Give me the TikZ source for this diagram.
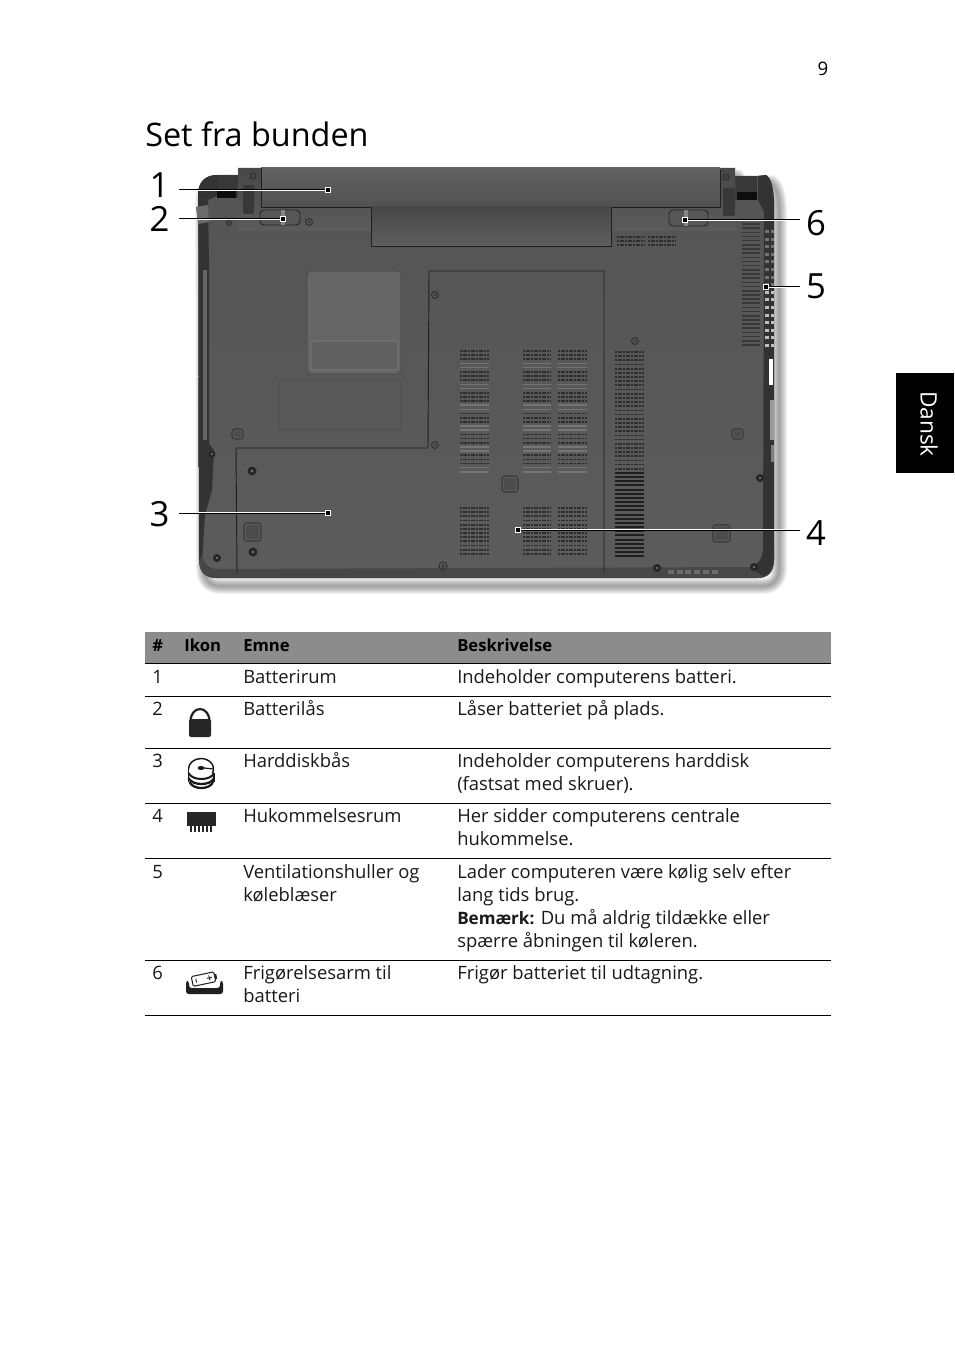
\documentclass[tikz,border=0pt]{standalone}
\usepackage{fontspec}
\setmainfont{Open Sans}
\usetikzlibrary{calc}
\definecolor{rimg}{HTML}{333333}
\definecolor{headg}{HTML}{8C8C8C}
\newcommand{\bodypath}{(198,195) .. controls (198,182) and (205,175) .. (217,175) -- (238,175) -- (241,168) -- (732,169) -- (735,176) -- (757,176) -- (766,175) .. controls (771,178) and (773,186) .. (774,200) -- (774,560) .. controls (774,572) and (768,578) .. (758,578) -- (216,578) .. controls (205,578) and (199,572) .. (199,560) -- cycle}
\newcommand{\screw}[3]{\fill[black!85] (#1,#2) circle (#3); \fill[black!50] (#1,#2) circle (#3*0.3);}
\newcommand{\ringscrew}[3]{\draw[black!82,line width=0.7pt] (#1,#2) circle (#3); \fill[black!75] (#1,#2) circle (#3*0.5);}
\newcommand{\padbtn}[4]{\draw[black!78,line width=0.8pt,rounded corners=2] (#1,#2) rectangle (#3,#4); \fill[black!70,rounded corners=1] ($(#1,#2)+(2,2)$) rectangle ($(#3,#4)+(-2,-2)$);}
\newcommand{\ventrows}[3]{\foreach \i in {0,...,29}{\pgfmathsetmacro{\yy}{#3+4.17*\i}\pgfmathtruncatemacro{\mm}{mod(\i,5)}\ifnum\mm<3\relax\draw[ventdark] (#1,\yy) -- (#2,\yy);\else\draw[ventlight] (#1,\yy) -- (#2,\yy);\fi}}
\newcommand{\ventlow}[3]{\foreach \i in {0,...,11}{\pgfmathsetmacro{\yy}{#3+4.17*\i}\draw[ventdark] (#1,\yy) -- (#2,\yy);}}
\tikzset{
  ventdark/.style={black!82,line width=1.3pt,dash pattern=on 1.6pt off 0.4pt},
  ventlight/.style={black!54,line width=1.1pt},
  ventsolid/.style={black!88,line width=1.5pt},
  leaderhalo/.style={white,line width=1.7pt},
  leaderline/.style={black,line width=0.75pt},
  leaderend/.style={draw=white,fill=black,line width=0.5pt,minimum size=3.6pt,inner sep=0pt},
  callout/.style={font=\fontsize{26}{28}\selectfont,anchor=base,inner sep=0pt},
  cell/.style={font=\fontsize{13.8}{15}\selectfont,anchor=base west,inner sep=0pt,text=black!90},
  headcell/.style={font=\fontsize{12.5}{15}\selectfont\bfseries,anchor=base west,inner sep=0pt},
  rowrule/.style={black,line width=0.75pt},
}
\begin{document}
\begin{tikzpicture}[x=0.75pt,y=-0.75pt]
\useasboundingbox (0,0) rectangle (954,1369);
\fill[white] (0,0) rectangle (954,1369);
% page furniture
\node[font=\fontsize{14}{16}\selectfont,anchor=base,inner sep=0pt] (pagenum) at (823,76) {9};
\node[font=\fontsize{24.3}{30}\selectfont,anchor=base west,inner sep=0pt] (title) at (145,147) {Set fra bunden};
\fill[black] (896,373) rectangle (954,473);
\node[font=\fontsize{17}{20}\selectfont,text=white,rotate=-90,inner sep=0pt] (tab) at (929,424) {Dansk};
% shadow
\foreach \w in {16,14,12,10,8,6,4,2}{
  \draw[black,opacity=0.05,line width=\w*0.75pt,line join=round,shift={(5,8)}] \bodypath;
}
% body
\shade[top color=black!67,middle color=black!61,bottom color=black!64] \bodypath;
% rims
\fill[rimg] (199,262) -- (209,262) -- (209,444) -- (214,450) -- (212,490) -- (205,515) -- (202,560) -- (199,560) -- cycle;
\fill[black!60] (203,270) rectangle (207,440);
\fill[black!72] (199,560) .. controls (199,572) and (205,578) .. (216,578) -- (758,578) .. controls (768,578) and (774,572) .. (774,560) -- (774,545) -- (763,550) .. controls (762,560) and (757,566) .. (750,567) -- (215,569) .. controls (209,568) and (205,564) .. (202,556) -- cycle;
\fill[rimg] (774,200) -- (774,560) .. controls (773,568) and (770,573) .. (764,576) .. controls (758,574) and (755,570) .. (750,567) .. controls (757,566) and (762,560) .. (763,550) -- (764,200) -- cycle;
\fill[rimg] (198,195) .. controls (198,182) and (205,175) .. (217,175) -- (217,196) -- (208,200) -- (209,262) -- (199,262) -- cycle;
\fill[black!58] (196,207) -- (208,205) -- (209,222) -- (198,224) -- cycle;
\fill[rimg] (758,176) -- (766,175) .. controls (771,178) and (773,186) .. (774,200) -- (764,200) -- (764,212) -- (758,200) -- cycle;
% hinges
\fill[black!78] (217,175) rectangle (238,198);
\fill[black!95] (217,190) rectangle (236,198);
\fill[black!78] (735,176) rectangle (757,200);
\fill[black!95] (737,192) rectangle (757,200);
% latch bays
\shade[top color=black!72,bottom color=black!64] (238,168) -- (261,168) -- (261,207) -- (371,207) -- (371,231) -- (238,231) -- cycle;
\shade[top color=black!72,bottom color=black!64] (611,207) -- (720,207) -- (720,168) -- (735,168) -- (736,231) -- (611,231) -- cycle;
% battery
\shade[top color=black!62,middle color=black!74,bottom color=black!68] (261,168) rectangle (720,207);
\shade[top color=black!72,bottom color=black!63] (371,207) rectangle (611,246);
\draw[black!88,line width=0.7pt] (261,168) -- (261,207) -- (371,207) -- (371,246) -- (611,246) -- (611,207) -- (720,207) -- (720,170);
\fill[black!78,rounded corners=1] (243,185) rectangle (254,214);
\fill[black!78,rounded corners=1] (723,188) rectangle (735,216);
\ringscrew{253}{176}{3}
\ringscrew{726}{177}{3}
\ringscrew{229}{223}{2.5}
\ringscrew{309}{222}{3.5}
\ringscrew{204}{193}{2.2}
\ringscrew{768}{192}{2.2}
% latches
\draw[black!85,line width=0.7pt,rounded corners=3,fill=black!66] (260,210) rectangle (300,225);
\fill[black!48] (281,210) rectangle (285,225);
\draw[black!85,line width=0.7pt,rounded corners=3,fill=black!66] (669,210) rectangle (708,226);
\fill[black!48] (684,210) rectangle (688,226);
% panels
\draw[black!88,line width=0.7pt] (237,573) -- (236,448) -- (428,448) -- (429,271) -- (604,271) -- (604,573);
\draw[black!72,rounded corners=3,line width=0.6pt,fill=black!60] (307,271) rectangle (401,374);
\draw[black!50,rounded corners=2,line width=0.5pt,fill=black!62] (311,341) rectangle (398,370);
\draw[black!70,rounded corners=3,line width=0.5pt] (279,380) rectangle (401,430);
% vents
\ventrows{460}{489}{351}
\ventrows{523}{551}{351}
\ventrows{558}{587}{351}
\ventlow{460}{489}{508}
\ventlow{523}{551}{508}
\ventlow{558}{587}{508}
\foreach \i in {0,...,28}{\pgfmathsetmacro{\yy}{352+4.17*\i}\draw[ventdark] (615,\yy) -- (644,\yy);}
\foreach \i in {29,...,49}{\pgfmathsetmacro{\yy}{352+4.17*\i}\draw[ventsolid] (615,\yy) -- (644,\yy);}
\foreach \yy in {237,241,245}{\draw[ventdark] (617,\yy) -- (645,\yy); \draw[ventdark] (648,\yy) -- (676,\yy);}
\foreach \i in {0,...,29}{\pgfmathsetmacro{\yy}{224+4.17*\i}\draw[black!78,line width=1.2pt] (742,\yy) -- (760,\yy);}
% right grille
\foreach \i in {0,...,15}{\pgfmathsetmacro{\yy}{230+7.6*\i}\pgfmathsetmacro{\gg}{\i<8 ? 55 : 25}
  \fill[black!\gg] (765,\yy) rectangle (769,\yy+3);
  \fill[black!\gg] (771,\yy) rectangle (774,\yy+3);
}
% ports
\fill[white] (769,359) rectangle (773,385);
\fill[black!40] (770,400) rectangle (774,440);
\fill[black!50] (771,445) rectangle (774,462);
% screws and pads
\ringscrew{435}{295}{3.5}
\ringscrew{635}{341}{3.5}
\ringscrew{435}{445}{3.5}
\screw{212}{454}{3.5}
\screw{252}{471}{4.5}
\screw{253}{552}{4.5}
\screw{217}{558}{4}
\ringscrew{443}{566}{4}
\screw{657}{568}{4}
\screw{754}{567}{4}
\screw{760}{478}{4}
\padbtn{232}{429}{243}{439}
\padbtn{244}{523}{261}{541}
\padbtn{502}{476}{518}{492}
\padbtn{732}{429}{743}{439}
\padbtn{713}{525}{730}{542}
\foreach \i in {0,...,5}{\fill[black!58] ({668+8.7*\i},570) rectangle ({674+8.7*\i},574);}
% callouts
\coordinate (s1) at (179,190); \coordinate (s2) at (179,219); \coordinate (s3) at (179,513);
\coordinate (s4) at (800,530); \coordinate (s5) at (800,287); \coordinate (s6) at (800,220);
\node[leaderend] (e1) at (328,190) {};
\node[leaderend] (e2) at (283,219) {};
\node[leaderend] (e3) at (328,513) {};
\node[leaderend] (e4) at (518,530) {};
\node[leaderend] (e5) at (766,287) {};
\node[leaderend] (e6) at (685,220) {};
\foreach \a in {1,...,6}{\draw[leaderhalo] (s\a) -- (e\a); \draw[leaderline] (s\a) -- (e\a);}
\node[callout] (n1) at (159.5,198) {1};
\node[callout] (n2) at (159.5,232) {2};
\node[callout] (n3) at (159.5,526) {3};
\node[callout] (n4) at (816,545) {4};
\node[callout] (n5) at (816,299) {5};
\node[callout] (n6) at (816,236) {6};
% table
\fill[headg] (145,632) rectangle (831,663);
\foreach \yy in {663,696,748,803,858,960,1015}{\draw[rowrule] (145,\yy) -- (831,\yy);}
\node[headcell] (h1) at (152,651) {\#};
\node[headcell] (h2) at (184,651) {Ikon};
\node[headcell] (h3) at (243,651) {Emne};
\node[headcell] (h4) at (457,651) {Beskrivelse};
\node[cell] (a1) at (152,683) {1};
\node[cell] (a2) at (243,683) {Batterirum};
\node[cell] (a3) at (457,683) {Indeholder computerens batteri.};
\node[cell] (b1) at (152,715) {2};
\node[cell] (b2) at (243,715) {Batterilås};
\node[cell] (b3) at (457,715) {Låser batteriet på plads.};
\node[cell] (c1) at (152,767) {3};
\node[cell] (c2) at (243,767) {Harddiskbås};
\node[cell] (c3) at (457,767) {Indeholder computerens harddisk};
\node[cell] (c4) at (457,790) {(fastsat med skruer).};
\node[cell] (d1) at (152,822) {4};
\node[cell] (d2) at (243,822) {Hukommelsesrum};
\node[cell] (d3) at (457,822) {Her sidder computerens centrale};
\node[cell] (d4) at (457,845) {hukommelse.};
\node[cell] (f1) at (152,878) {5};
\node[cell] (f2) at (243,878) {Ventilationshuller og};
\node[cell] (f3) at (243,901) {køleblæser};
\node[cell] (f4) at (457,878) {Lader computeren være kølig selv efter};
\node[cell] (f5) at (457,901) {lang tids brug.};
\node[cell] (f6) at (457,924) {{\fontsize{12.8}{15}\selectfont\bfseries Bemærk:} Du må aldrig tildække eller};
\node[cell] (f7) at (457,947) {spærre åbningen til køleren.};
\node[cell] (g1) at (152,979) {6};
\node[cell] (g2) at (243,979) {Frigørelsesarm til};
\node[cell] (g3) at (243,1002) {batteri};
\node[cell] (g4) at (457,979) {Frigør batteriet til udtagning.};
% icons
\draw[black!85,line width=1.7pt] (190.5,721) arc[start angle=180,end angle=360,x radius=9.5,y radius=12];
\fill[black!85,rounded corners=1.5] (189,719) rectangle (211,737);
\draw[black!90,line width=1.1pt] (188.5,769) arc[start angle=180,end angle=385,x radius=12.5,y radius=10.5];
\draw[black!90,line width=1.1pt] (188.5,769) -- (188.5,782) (214,773) -- (214,782);
\draw[black!90,line width=1.5pt] (188.5,773) .. controls (192,781) and (211,781) .. (214,773);
\draw[black!90,line width=1.7pt] (188.5,778) .. controls (192,786) and (211,786) .. (214,778);
\draw[black!90,line width=1.7pt] (189.5,782) .. controls (193,790) and (210,790) .. (213,782);
\fill[black!90] (201,768) ellipse (3.5 and 2);
\draw[black!90,line width=0.9pt] (204,768) -- (213,769);
\fill[black!85] (187,812) rectangle (216,826);
\foreach \i in {0,...,5}{\fill[black!85] ({190+4*\i},826) rectangle ({192+4*\i},832);}
\fill[black!88,rounded corners=2] (186,981) -- (189,981) -- (189,988) -- (220,988) -- (220,981) -- (223,981) -- (223,994) -- (186,994) -- cycle;
\begin{scope}[shift={(204,979)},rotate=12]
\draw[black!85,line width=0.8pt,rounded corners=1] (-12,-5) rectangle (11,5);
\fill[black!85] (11,-2.5) rectangle (13,2.5);
\draw[black!85,line width=0.7pt] (-8,-2) -- (-8,2) (3,0) -- (8,0) (5.5,-2.5) -- (5.5,2.5);
\end{scope}
\end{tikzpicture}
\end{document}
